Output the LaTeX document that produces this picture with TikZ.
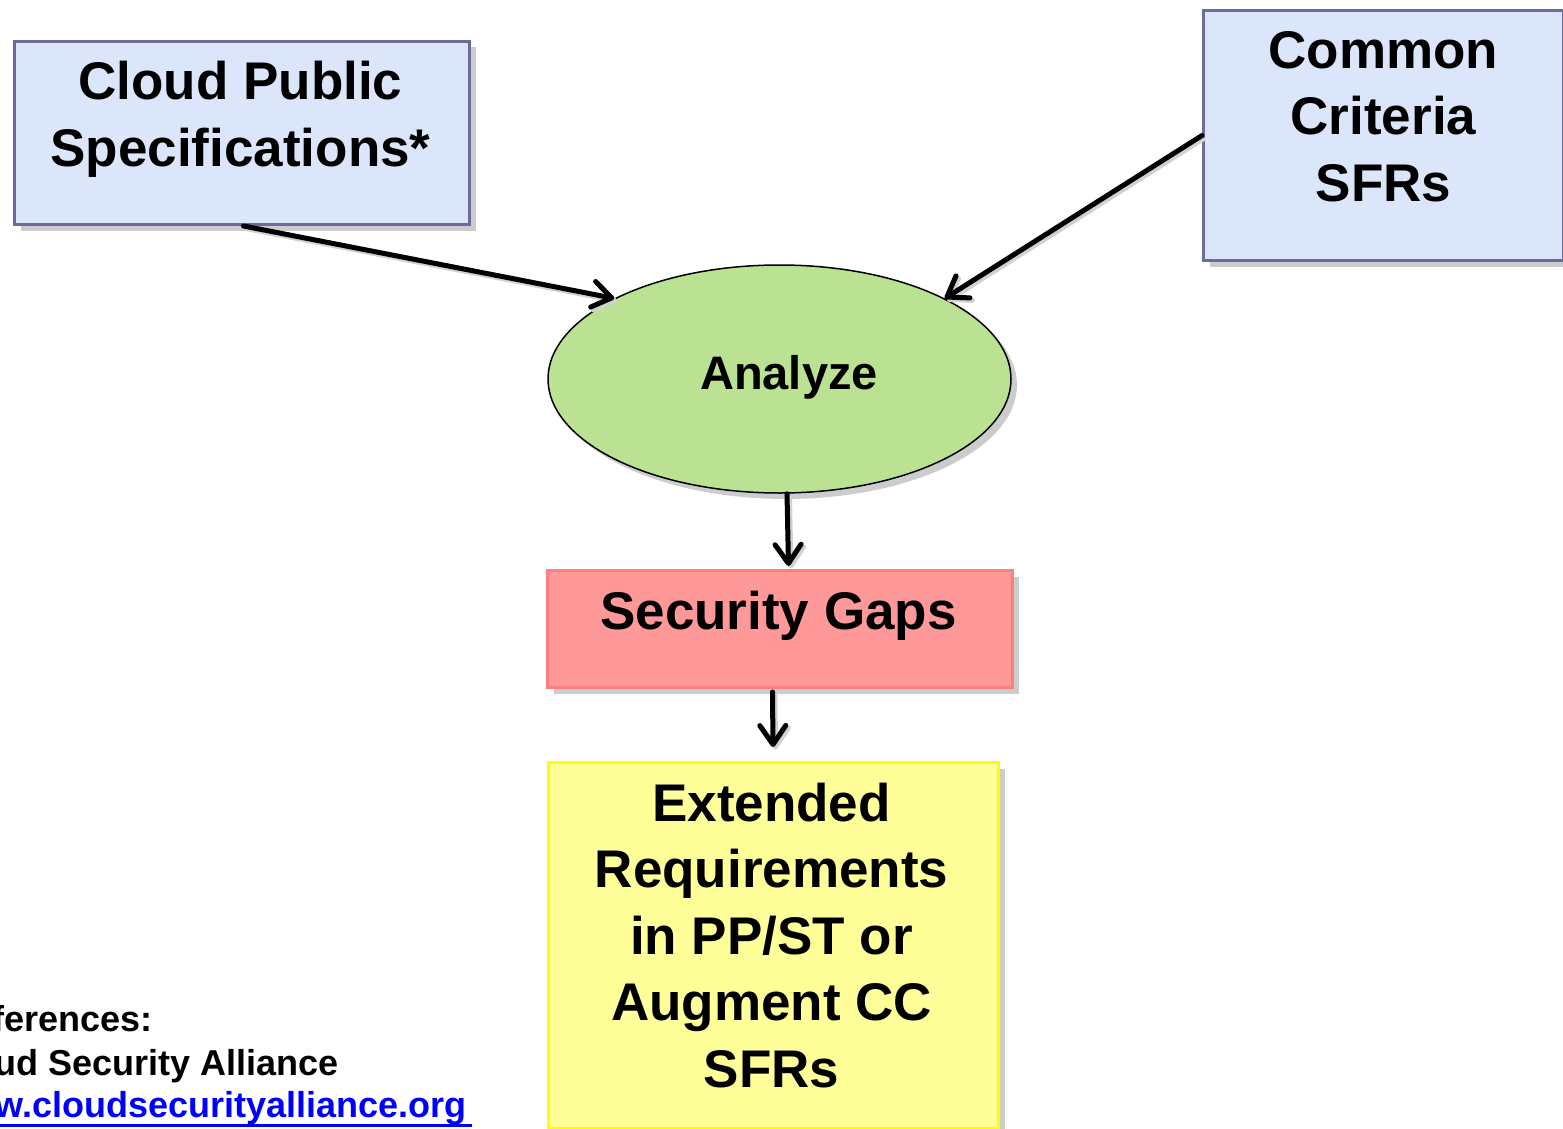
\documentclass[tikz,border=0pt]{standalone}
\usepackage{fontspec}
\setmainfont{Liberation Sans}
\usetikzlibrary{shapes.geometric,shadows,arrows.meta}
\definecolor{boxblue}{HTML}{DCE6FB}
\definecolor{borderblue}{HTML}{6B6B9E}
\definecolor{ellgreen}{HTML}{BBE193}
\definecolor{gappink}{HTML}{FF9999}
\definecolor{gapborder}{HTML}{FF7F7F}
\definecolor{reqyellow}{HTML}{FFFF99}
\definecolor{reqborder}{HTML}{FFFF00}
\definecolor{linkblue}{HTML}{0000FF}
\tikzset{
  shad/.style={drop shadow={shadow xshift=6pt, shadow yshift=-6pt, fill=black!20, opacity=1}},
  bluebox/.style={draw=borderblue, fill=boxblue, line width=3pt, inner sep=0pt, anchor=north west, shad},
  bigtext/.style={font=\bfseries\fontsize{53}{66.5}\selectfont, align=center, inner sep=0pt},
  reftext/.style={font=\bfseries\fontsize{36}{44}\selectfont, inner sep=0pt, anchor=base east},
  conn/.style={line width=5pt, line cap=round, line join=round,
    -{Straight Barb[length=19pt, width=26pt, line cap=round, line join=round]},
    preaction={draw=black!18, line width=5pt, transform canvas={shift={(2.5pt,-2.5pt)}}}},
}
\begin{document}
\begin{tikzpicture}[x=1pt, y=-1pt]
\useasboundingbox (0,0) rectangle (1563,1129);
% boxes
\node[bluebox, minimum width=455pt, minimum height=183pt] (cps) at (13,40) {};
\node[bluebox, minimum width=360pt, minimum height=250pt] (cc) at (1202,9) {};
\node[ellipse, draw=black, line width=1.5pt, fill=ellgreen, minimum width=463pt, minimum height=228pt, inner sep=0pt, shad] (an) at (779.5,379) {};
\node[draw=gapborder, fill=gappink, line width=3pt, minimum width=465pt, minimum height=117pt, inner sep=0pt, anchor=north west, shad] (sg) at (546,569) {};
\node[draw=reqborder, fill=reqyellow, line width=3pt, minimum width=450pt, minimum height=366pt, inner sep=0pt, anchor=north west, shad] (ye) at (547,761) {};
% texts
\node[bigtext, anchor=north] (cpst) at (240.5,61) {Cloud Public\\Specifications*};
\node[bigtext, anchor=north] (cct) at (1383.5,31) {Common\\Criteria\\SFRs};
\node[font=\bfseries\fontsize{47}{56}\selectfont, inner sep=0pt, anchor=base] (ant) at (789,389) {Analyze};
\node[bigtext, anchor=base] (sgt) at (778.5,629) {Security Gaps};
\node[bigtext, anchor=north] (yet) at (771.5,782.5) {Extended\\Requirements\\in PP/ST or\\Augment CC\\SFRs};
% references
\node[reftext] (r1) at (153,1031) {ferences:};
\node[reftext] (r2) at (339,1075) {ud Security Alliance};
\node[reftext, text=linkblue] (r3) at (467,1117) {w.cloudsecurityalliance.org};
\draw[linkblue, line width=3pt] ([yshift=-8.5pt]r3.base west) -- ([xshift=5pt, yshift=-8.5pt]r3.base east);
% connectors
\draw[conn] ([xshift=1.5pt]cps.south) -- (an.154);
\draw[conn] (cc.west) -- (an.26);
\draw[conn] ([xshift=7.5pt]an.south) -- ([xshift=8.5pt, yshift=3pt]sg.north);
\draw[conn] ([xshift=-7.5pt, yshift=-3pt]sg.south) -- ([xshift=-0.5pt, yshift=14pt]ye.north);
\end{tikzpicture}
\end{document}
